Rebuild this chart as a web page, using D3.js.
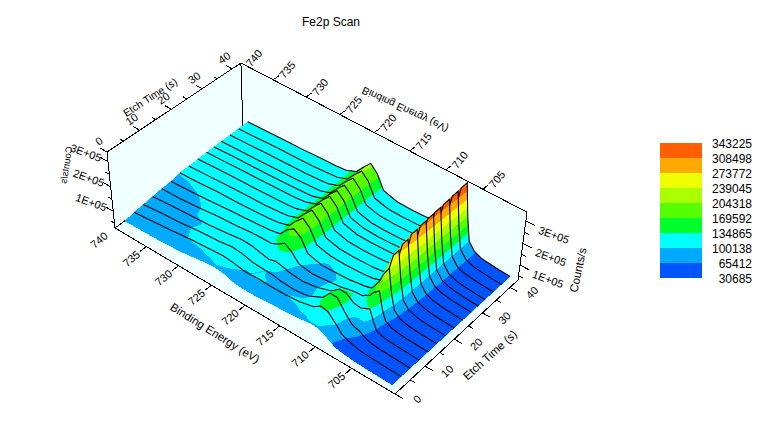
<!DOCTYPE html>
<html><head><meta charset="utf-8">
<script src="https://cdn.jsdelivr.net/npm/d3@7/dist/d3.min.js"></script>
<style>html,body{margin:0;padding:0;background:#fff}svg{display:block}text{font-family:"Liberation Sans",Arial,sans-serif;fill:#000}</style>
</head><body><svg id="c" width="784" height="429"></svg>
<script>
// ---- data (k counts)
const title = "Fe2p Scan";
const bindingEnergy = [738.8,736,733,730,727,725,723.5,722,721,720,719,718,716,714,712,711,710,709,708,707.5,706.8,706.3,705.8,705,704,703,701.5,700];
const etchTimes = [1,4,7,10,13,16,19,22,25,28,30.5,33,36,39,42.2];
const row00 = [68,70,72,78,90,97,92,78,75,75,76,78,82,86,92,97,95,80,62,56,52,50,48,46,44,43,42,41];
const row01 = [76,84,92,101,108,112,108,100,100,102,101,100,100,105,118,138,132,104,72,65,58,54,50,47,45,44,42,41];
const row02 = [80,88,94,104,110,118,114,103,101,100,98,92,88,96,125,160,158,118,85,78,72,62,55,49,46,45,43,41];
const row03 = [85,92,97,102,112,120,118,108,102,110,104,96,90,100,120,145,145,122,118,125,135,95,62,52,47,45,43,41];
const row04 = [90,92,99,108,114,120,122,122,135,155,135,102,92,98,105,112,118,120,140,160,178,110,70,54,48,45,43,41];
const row05 = [93,97,103,110,116,120,124,132,165,185,165,115,98,100,103,108,112,120,165,205,240,140,80,58,50,46,43,41];
const row06 = [101,104,110,112,116,120,125,138,172,200,175,120,106,104,106,108,112,122,180,250,285,165,90,62,52,47,44,41];
const row07 = [102,106,110,114,116,120,125,140,175,205,178,122,106,104,106,108,112,124,190,268,300,175,94,65,53,48,44,41];
const row08 = [104,108,112,114,118,120,125,140,175,205,178,122,106,104,106,108,112,124,195,280,312,182,96,66,54,49,44,41];
const row09 = [106,108,112,114,118,120,125,140,175,205,178,122,106,104,106,108,112,125,200,285,318,186,97,66,54,49,44,41];
const row10 = [106,110,112,114,118,122,125,140,175,205,178,122,106,104,106,108,112,125,205,290,322,188,98,67,54,49,44,41];
const row11 = [108,110,112,116,118,122,125,140,175,205,178,122,106,104,106,108,114,126,208,294,326,190,98,67,54,49,44,41];
const row12 = [108,110,114,116,118,122,126,142,176,206,178,122,106,104,106,108,114,126,210,298,331,193,99,67,54,49,44,41];
const row13 = [108,110,114,116,118,122,126,142,178,208,180,122,106,104,106,108,114,128,215,304,337,197,100,68,54,49,44,41];
const row14 = [110,112,114,116,120,122,126,144,180,212,182,124,106,104,106,110,116,128,220,310,343,200,100,68,54,49,44,41];
const rows = [row00,row01,row02,row03,row04,row05,row06,row07,row08,row09,row10,row11,row12,row13,row14];
const legendValues = [343225,308498,273772,239045,204318,169592,134865,100138,65412,30685];
const bandColors = ["#0055ff","#00aaff","#00ffff","#00ff2a","#55ff00","#aaff00","#eeff00","#ffaa00","#ff5f00"];
const beTicks = [740,735,730,725,720,715,710,705];
const tMajor = [0,10,20,30,40];
const tMinor = [5,15,25,35];
const zMajor = [100000,200000,300000];
const zMinor = [50000,150000,250000];
const zLabels = ["1E+05","2E+05","3E+05"];

// ---- projection calibrated from the box corners
const A=[115,228],D=[395,394],C=[518,280],B=[243,134];
const AtopY=152, VV=[296,1946];
const Z0=30000,Z1=338000,BE0=740,BE1=699.2,T0=0,T1=43;
const uS=d3.scaleLinear().domain([BE0,BE1]).range([0,1]);
const vS=d3.scaleLinear().domain([T0,T1]).range([0,1]);
const hS=d3.scaleLinear().domain([Z0,Z1]).range([0,1]);
const dx1=D[0]-C[0],dx2=B[0]-C[0],sx=A[0]-D[0]+C[0]-B[0];
const dy1=D[1]-C[1],dy2=B[1]-C[1],sy=A[1]-D[1]+C[1]-B[1];
const den=dx1*dy2-dx2*dy1;
const g=(sx*dy2-dx2*sy)/den,h0=(dx1*sy-sx*dy1)/den;
const a=D[0]-A[0]+g*D[0],b=B[0]-A[0]+h0*B[0],c0=A[0];
const d=D[1]-A[1]+g*D[1],e=B[1]-A[1]+h0*B[1],f0=A[1];
const k=-(A[1]-AtopY)/(VV[1]-AtopY);
function proj(be,t,z){
  const u=uS(be),v=vS(t),h=hS(z)*(1-v*(.055+.055*u));
  const w=g*u+h0*v+1,X=a*u+b*v+c0,Y=d*u+e*v+f0;
  const ww=w+h*k;
  return [(X+h*k*VV[0])/ww,(Y+h*k*VV[1])/ww];
}

const svg=d3.select("#c");
const thresholds=legendValues.slice().reverse();
const poly=d3.line();
const wallFill="#f0ffff";
const walls=[
 [[BE0,T1,Z0],[BE1,T1,Z0],[BE1,T1,Z1],[BE0,T1,Z1]],
 [[BE0,T0,Z0],[BE0,T1,Z0],[BE0,T1,Z1],[BE0,T0,Z1]],
 [[BE0,T0,Z0],[BE1,T0,Z0],[BE1,T1,Z0],[BE0,T1,Z0]]
];
svg.append("g").selectAll("path").data(walls).join("path")
  .attr("d",q=>poly(q.map(p=>proj(...p)))+"Z").attr("fill",wallFill).attr("stroke","none");
const edges=[
 [[BE0,T0,Z0],[BE0,T0,Z1]],[[BE0,T0,Z1],[BE0,T1,Z1]],[[BE0,T1,Z1],[BE1,T1,Z1]],
 [[BE0,T1,Z1],[BE0,T1,Z0]],[[BE1,T1,Z1],[BE1,T1,Z0]],
 [[BE0,T0,Z0],[BE1,T0,Z0]],[[BE1,T0,Z0],[BE1,T1,Z0]],[[BE0,T0,Z0],[BE0,T1,Z0]]
];
const axisG=svg.append("g").attr("stroke","#000").attr("stroke-width",1).attr("fill","none").attr("shape-rendering","crispEdges");
function seg(p,q){axisG.append("path").attr("d",poly([proj(...p),proj(...q)]));}
edges.forEach(s=>seg(s[0],s[1]));
beTicks.slice(1).forEach(x=>{seg([x,T0,Z0],[x,T0-2,Z0]);seg([x,T1,Z1],[x,T1+2,Z1]);});
tMajor.forEach(x=>{seg([BE1,x,Z0],[BE1-1,x,Z0]);seg([BE0,x,Z1],[BE0+1,x,Z1]);});
tMinor.forEach(x=>{seg([BE1,x,Z0],[BE1-.6,x,Z0]);seg([BE0,x,Z1],[BE0+.6,x,Z1]);});
zMajor.forEach(x=>{seg([BE1,T1,x],[BE1-1.2,T1,x]);seg([BE0,T0,x],[BE0+1.2,T0,x]);});
zMinor.forEach(x=>{seg([BE1,T1,x],[BE1-.6,T1,x]);seg([BE0,T0,x],[BE0+.6,T0,x]);});

// surface: back to front, clipped into colour bands
function clip(tri,val,keepAbove){
  const out=[];
  for(let i=0;i<tri.length;i++){
    const p=tri[i],q=tri[(i+1)%tri.length];
    const pin=keepAbove?p.v>=val:p.v<=val, qin=keepAbove?q.v>=val:q.v<=val;
    if(pin) out.push(p);
    if(pin!==qin){const s=(val-p.v)/(q.v-p.v);
      out.push({x:p.x+s*(q.x-p.x),y:p.y+s*(q.y-p.y),v:val});}
  }
  return out;
}
const surf=svg.append("g").attr("shape-rendering","crispEdges");
const lineG=d3.line();
function vert(ri,ci){const v=rows[ri][ci]*1000,p=proj(bindingEnergy[ci],etchTimes[ri],v);return {x:p[0],y:p[1],v};}
function drawTri(g,tri){
  bandColors.forEach((col,i)=>{
    let lo=i===0?-1e9:thresholds[i],hi=i===bandColors.length-1?1e9:thresholds[i+1];
    let pg=clip(tri,lo,true); if(pg.length<3) return;
    pg=clip(pg,hi,false); if(pg.length<3) return;
    g.append("path").attr("d",poly(pg.map(p=>[p.x,p.y]))+"Z").attr("fill",col).attr("stroke",col).attr("stroke-width",.25);
  });
}
for(let r=rows.length-1;r>=1;r--){
  for(let c=0;c<bindingEnergy.length-1;c++){
    const p00=vert(r-1,c),p01=vert(r-1,c+1),p10=vert(r,c),p11=vert(r,c+1);
    drawTri(surf,[p10,p11,p00]);
    drawTri(surf,[p11,p01,p00]);
  }
  surf.append("path").attr("d",lineG(bindingEnergy.map((be,c)=>proj(be,etchTimes[r],rows[r][c]*1000))))
    .attr("fill","none").attr("stroke","#000").attr("stroke-width",1.1).attr("shape-rendering","auto");
}

function lab(x,y,str,rot,size,anchor,flip){
  svg.append("text").attr("transform",`translate(${x},${y}) rotate(${rot})${flip?" scale("+flip+")":""}`)
    .attr("text-anchor",anchor||"middle").attr("dominant-baseline","central").attr("font-size",size||11).text(str);
}
lab(331,22,title,0,12);
beTicks.forEach(x=>{
  if(x===740){const p=proj(x,T0,Z0);lab(p[0]-16,p[1]+12,x,-40);const q=proj(x,T1,Z1);lab(q[0]+13,q[1]-5,x,-50);return;}
  const p=proj(x,T0,Z0);lab(p[0]-15,p[1]+12,x,-40);
  const q=proj(x,T1,Z1);lab(q[0]+14,q[1]-10,x,-50);
});
tMajor.forEach(x=>{
  const p=proj(BE1,x,Z0);lab(p[0]+22,p[1]+5,x,-45);
  const q=proj(BE0,x,Z1);lab(q[0]-8,q[1]-11,x,-35);
});
zMajor.forEach((x,i)=>{
  const p=proj(BE1,T1,x);lab(p[0]+28,p[1]+14,zLabels[i],20);
  const q=proj(BE0,T0,x);lab(q[0]-22,q[1]-9,zLabels[i],20);
});
lab(215,333,"Binding Energy (eV)",32,11.5);
lab(405,110,"Binding Energy (eV)",25,10.5,"middle","1,-1");
lab(490,355,"Etch Time (s)",-42,11.5);
lab(150,97,"Etch Time (s)",-33,10.5);
lab(578,270,"Counts/s",-78,11.5);
lab(66,165,"Counts/s",-81,9.5,"middle","-1,1");

const lx=660,lw=42,lTop=143,lStep=15;
const legendY=d3.scaleLinear().domain([0,legendValues.length-1]).range([lTop,lTop+lStep*(legendValues.length-1)]);
const leg=svg.append("g");
bandColors.slice().reverse().forEach((col,i)=>{
  leg.append("rect").attr("x",lx).attr("y",legendY(i)).attr("width",lw).attr("height",lStep).attr("fill",col);
});
legendValues.forEach((v,i)=>lab(752,legendY(i)+.5,v,0,12,"end"));
</script></body></html>
